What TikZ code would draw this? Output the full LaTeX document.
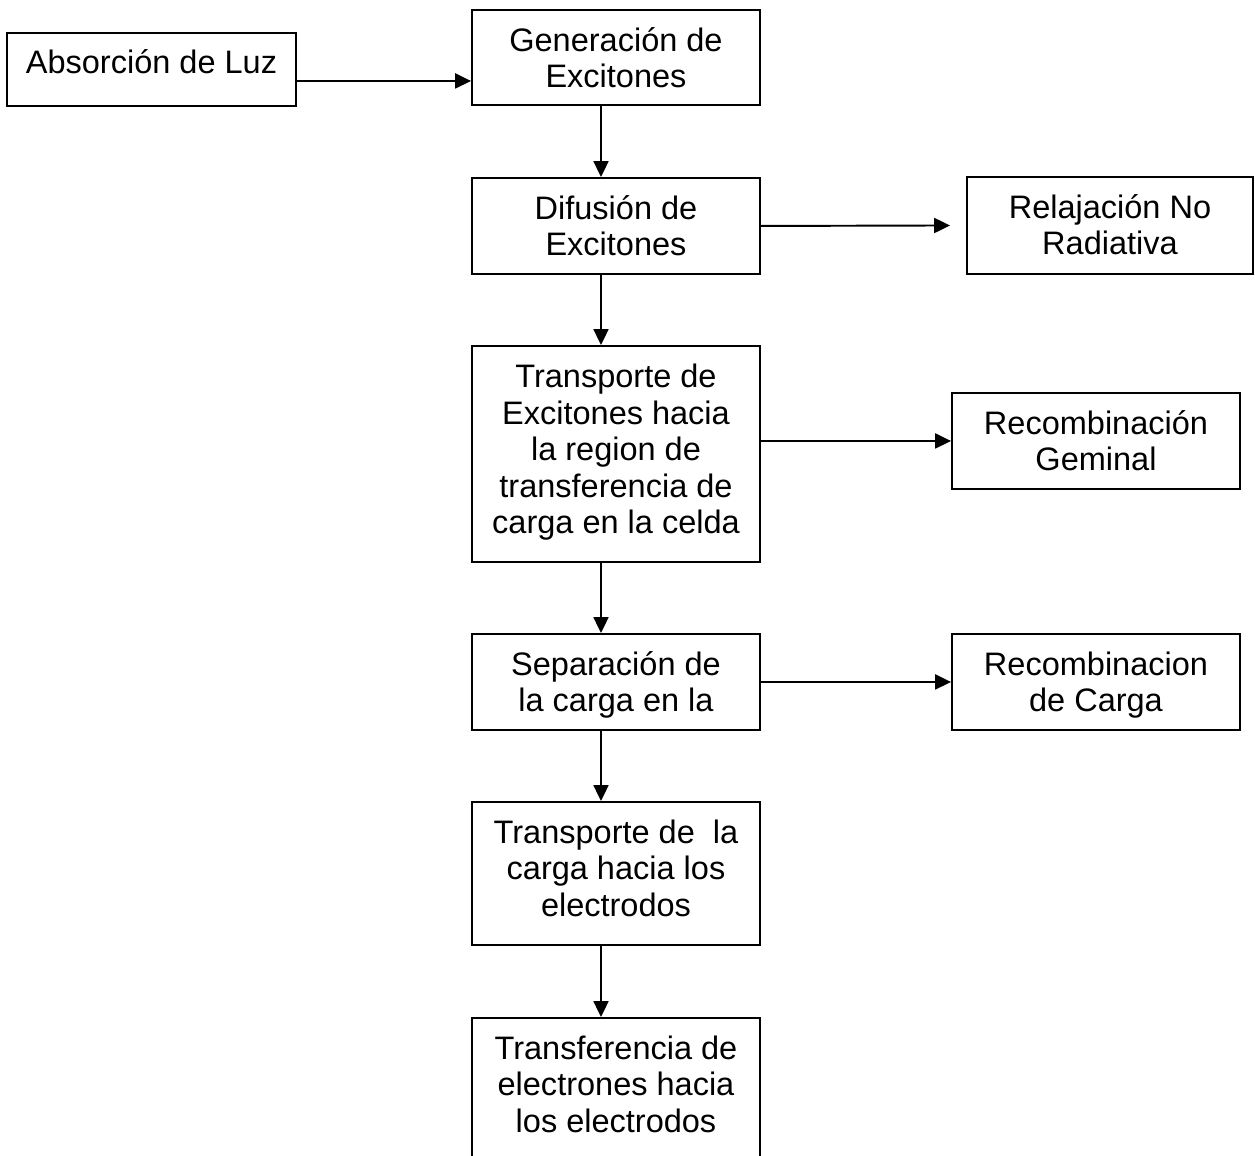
\documentclass[tikz,border=0pt]{standalone}
\usepackage{fontspec}
\setmainfont{Liberation Sans}
\usepackage{tikz}
\usetikzlibrary{shapes, arrows.meta, positioning}

\begin{document}
\begin{tikzpicture}[
  caja/.style={draw, line width=1.1pt, minimum width=5.76cm, anchor=north,
    align=center, inner sep=0pt, text height=1.554cm, text depth=0.366cm,
    font=\fontsize{18.5}{20.8}\selectfont},
  flecha/.style={-{Triangle[length=9pt,width=8.5pt]}, line width=1.1pt}]

  \useasboundingbox (0,0) rectangle (25.1,-23.12);
  \clip (0,0) rectangle (25.1,-23.12);

  % columna central
  \node[caja, minimum width=5.78cm, text height=0.82cm, text depth=0.64cm] (abs) at (3.03,-0.64) {Absorción de Luz};
  \node[caja, text depth=0.346cm] (gen) at (12.32,-0.18) {Generación de\\Excitones};
  \node[caja] (dif) at (12.32,-3.54) {Difusión de\\Excitones};
  \node[caja, text height=3.755cm, text depth=0.565cm] (tra) at (12.32,-6.90)
    {Transporte de\\Excitones hacia\\la region de\\transferencia de\\carga en la celda};
  \node[caja] (sep) at (12.32,-12.66) {Separación de\\la carga en la};
  \node[caja, text height=2.288cm, text depth=0.572cm] (trc) at (12.32,-16.02) {Transporte de\ \ la\\carga hacia los\\electrodos};
  \node[caja, text height=2.288cm, text depth=0.592cm] (tre) at (12.32,-20.34) {Transferencia de\\electrones hacia\\los electrodos};

  % perdidas
  \node[caja, minimum width=5.72cm, text depth=0.386cm] (rel) at (22.20,-3.52) {Relajación No\\Radiativa};
  \node[caja] (gem) at (21.92,-7.84) {Recombinación\\Geminal};
  \node[caja] (rec) at (21.92,-12.66) {Recombinacion\\de Carga};

  \draw[flecha] ([yshift=-0.23cm]abs.east) -- ([yshift=-0.23cm]abs.east -| gen.west);
  \draw[flecha] ([xshift=-0.3cm]gen.south) -- ([xshift=-0.3cm]dif.north);
  \draw[flecha] ([xshift=-0.3cm]dif.south) -- ([xshift=-0.3cm]tra.north);
  \draw[flecha] ([xshift=-0.3cm]tra.south) -- ([xshift=-0.3cm]sep.north);
  \draw[flecha] ([xshift=-0.3cm]sep.south) -- ([xshift=-0.3cm]trc.north);
  \draw[flecha] ([xshift=-0.3cm]trc.south) -- ([xshift=-0.3cm]tre.north);

  \draw[flecha] (dif.east) -- ([xshift=-0.32cm]rel.west);
  \draw[flecha] (tra.east |- gem.west) -- (gem.west);
  \draw[flecha] (sep.east) -- (rec.west);
\end{tikzpicture}
\end{document}
